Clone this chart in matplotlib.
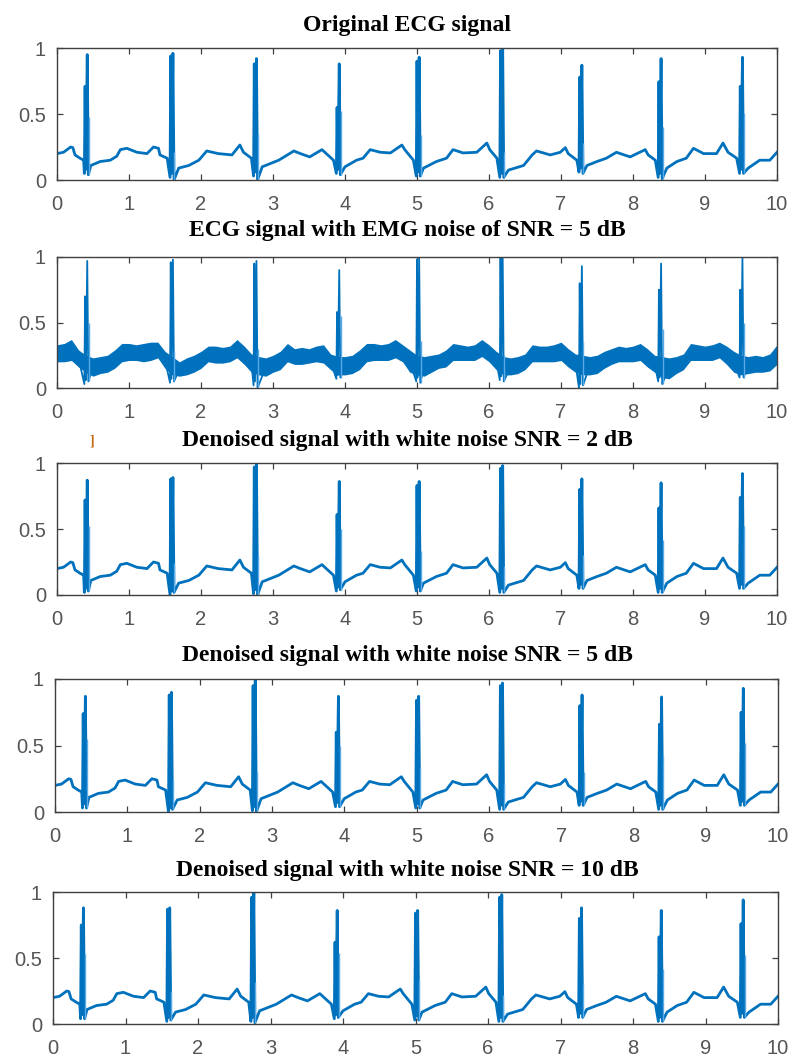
import numpy as np
import matplotlib
matplotlib.use("Agg")
import matplotlib.pyplot as plt

# R-peak times in seconds (same beats in every panel)
beat_t = [0.42, 1.61, 2.77, 3.92, 5.03, 6.19, 7.29, 8.39, 9.52]

# baseline of the ECG between the QRS complexes
base_t = [0.00, 0.09, 0.19, 0.22, 0.25, 0.32, 0.37,
          0.47, 0.60, 0.74, 0.83, 0.88, 0.97, 1.11, 1.25, 1.34, 1.41, 1.43, 1.53,
          1.69, 1.83, 1.97, 2.08, 2.24, 2.43, 2.54, 2.59, 2.70,
          2.85, 3.08, 3.17, 3.29, 3.38, 3.51, 3.68, 3.74, 3.84,
          4.00, 4.16, 4.25, 4.35, 4.49, 4.63, 4.79, 4.83, 4.95,
          5.09, 5.27, 5.41, 5.50, 5.64, 5.83, 5.97, 6.01, 6.11,
          6.27, 6.48, 6.60, 6.66, 6.85, 6.99, 7.06, 7.10, 7.22,
          7.36, 7.50, 7.63, 7.77, 7.96, 8.17, 8.21, 8.31,
          8.47, 8.61, 8.74, 8.84, 8.98, 9.16, 9.25, 9.32, 9.44,
          9.60, 9.76, 9.90, 10.00]
base_v = [0.20, 0.21, 0.25, 0.245, 0.19, 0.165, 0.15,
          0.11, 0.14, 0.15, 0.18, 0.23, 0.24, 0.21, 0.20, 0.25, 0.24, 0.19, 0.165,
          0.09, 0.11, 0.15, 0.22, 0.20, 0.19, 0.265, 0.21, 0.165,
          0.10, 0.15, 0.18, 0.22, 0.20, 0.175, 0.23, 0.20, 0.15,
          0.10, 0.15, 0.165, 0.23, 0.21, 0.205, 0.265, 0.23, 0.15,
          0.09, 0.14, 0.165, 0.23, 0.205, 0.21, 0.28, 0.23, 0.165,
          0.075, 0.11, 0.19, 0.22, 0.19, 0.21, 0.245, 0.20, 0.15,
          0.11, 0.14, 0.165, 0.21, 0.175, 0.23, 0.19, 0.15,
          0.09, 0.14, 0.165, 0.24, 0.20, 0.20, 0.28, 0.21, 0.165,
          0.09, 0.15, 0.15, 0.21]

# EMG noise band (panel 2): upper and lower edge every 0.1 s
emg_t = np.arange(101) / 10
emg_hi = [0.33, 0.34, 0.37, 0.29, 0.25, 0.23, 0.24, 0.25, 0.29, 0.34,
          0.34, 0.33, 0.34, 0.35, 0.35, 0.28, 0.24, 0.20, 0.23, 0.25,
          0.28, 0.32, 0.32, 0.31, 0.32, 0.37, 0.32, 0.26, 0.24, 0.23,
          0.25, 0.28, 0.34, 0.30, 0.31, 0.30, 0.32, 0.33, 0.26, 0.24,
          0.24, 0.25, 0.29, 0.34, 0.34, 0.33, 0.34, 0.37, 0.33, 0.29,
          0.25, 0.24, 0.25, 0.26, 0.29, 0.34, 0.33, 0.32, 0.33, 0.37,
          0.33, 0.28, 0.24, 0.23, 0.24, 0.26, 0.33, 0.32, 0.32, 0.33,
          0.35, 0.30, 0.26, 0.25, 0.24, 0.25, 0.28, 0.30, 0.32, 0.31,
          0.32, 0.34, 0.30, 0.25, 0.24, 0.23, 0.24, 0.26, 0.34, 0.33,
          0.32, 0.33, 0.35, 0.32, 0.28, 0.25, 0.24, 0.25, 0.24, 0.26,
          0.33]
emg_lo = [0.20, 0.20, 0.21, 0.16, 0.12, 0.09, 0.11, 0.12, 0.15, 0.20,
          0.21, 0.21, 0.20, 0.21, 0.23, 0.15, 0.10, 0.09, 0.10, 0.12,
          0.15, 0.20, 0.19, 0.19, 0.20, 0.23, 0.18, 0.12, 0.10, 0.09,
          0.12, 0.14, 0.20, 0.18, 0.18, 0.19, 0.20, 0.19, 0.14, 0.10,
          0.10, 0.11, 0.14, 0.20, 0.21, 0.21, 0.21, 0.23, 0.20, 0.12,
          0.10, 0.09, 0.12, 0.15, 0.16, 0.21, 0.21, 0.21, 0.21, 0.24,
          0.20, 0.14, 0.10, 0.10, 0.11, 0.14, 0.20, 0.20, 0.20, 0.20,
          0.21, 0.16, 0.12, 0.10, 0.10, 0.11, 0.15, 0.18, 0.20, 0.20,
          0.20, 0.21, 0.16, 0.12, 0.08, 0.07, 0.11, 0.14, 0.21, 0.21,
          0.21, 0.21, 0.23, 0.18, 0.12, 0.10, 0.11, 0.12, 0.12, 0.13,
          0.18]

# QRS complexes per panel: R peak, second spike, faint spike, Q and S minimum
peak_orig = [0.95, 0.96, 0.92, 0.88, 0.93, 1.00, 0.87, 0.92, 0.93]
dark_orig = [0.71, 0.94, 0.88, 0.55, 0.90, 0.98, 0.78, 0.745, 0.71]
light_orig = [0.48, 0.21, 0.35, 0.52, 0.34, 0.21, 0.28, 0.40, 0.505]
q_orig = [0.05, 0.02, 0.03, 0.05, 0.03, 0.02, 0.06, 0.02, 0.05]
s_orig = [0.04, 0.00, 0.00, 0.04, 0.03, 0.02, 0.05, 0.01, 0.05]

peak_emg = [0.97, 0.98, 0.97, 0.90, 1.00, 1.00, 0.93, 0.95, 0.99]
dark_emg = [0.70, 0.96, 0.95, 0.58, 0.98, 1.00, 0.80, 0.75, 0.75]
light_emg = [0.50, 0.28, 0.30, 0.55, 0.36, 0.25, 0.35, 0.45, 0.50]
q_emg = [0.03, 0.04, 0.02, 0.07, 0.05, 0.06, 0.00, 0.05, 0.08]
s_emg = [0.05, 0.05, 0.00, 0.08, 0.04, 0.05, 0.02, 0.03, 0.08]

peak_2db = [0.87, 0.89, 1.00, 0.86, 0.86, 0.98, 0.88, 0.85, 0.92]
dark_2db = [0.72, 0.88, 0.97, 0.61, 0.83, 0.96, 0.80, 0.66, 0.74]
light_2db = [0.52, 0.24, 0.30, 0.50, 0.33, 0.22, 0.30, 0.42, 0.52]
q_2db = [0.02, 0.00, 0.01, 0.03, 0.03, 0.02, 0.05, 0.02, 0.05]
s_2db = [0.03, 0.02, 0.00, 0.04, 0.03, 0.02, 0.05, 0.02, 0.05]

peak_5db = [0.87, 0.90, 1.00, 0.87, 0.87, 0.97, 0.88, 0.865, 0.93]
dark_5db = [0.74, 0.88, 0.95, 0.60, 0.84, 0.95, 0.80, 0.66, 0.75]
light_5db = [0.55, 0.24, 0.30, 0.50, 0.33, 0.22, 0.30, 0.42, 0.52]
q_5db = [0.03, 0.00, 0.01, 0.04, 0.03, 0.02, 0.05, 0.02, 0.05]
s_5db = [0.03, 0.02, 0.00, 0.04, 0.03, 0.02, 0.05, 0.02, 0.05]

peak_10db = [0.88, 0.88, 1.00, 0.86, 0.86, 0.98, 0.88, 0.86, 0.94]
dark_10db = [0.75, 0.87, 0.96, 0.62, 0.84, 0.96, 0.80, 0.66, 0.76]
light_10db = [0.53, 0.25, 0.32, 0.54, 0.34, 0.22, 0.30, 0.42, 0.52]
q_10db = [0.04, 0.02, 0.02, 0.04, 0.03, 0.02, 0.05, 0.02, 0.05]
s_10db = [0.04, 0.03, 0.01, 0.05, 0.03, 0.02, 0.05, 0.02, 0.05]

titles = ["Original ECG signal",
          "ECG signal with EMG noise of SNR = 5 dB",
          "Denoised signal with white noise SNR = 2 dB",
          "Denoised signal with white noise SNR = 5 dB",
          "Denoised signal with white noise SNR = 10 dB"]

blue = "#0072BD"
light_blue = "#5aaae6"


def ecg_trace(bt, bv, peak, dark, q, s):
    # baseline points, without the ones that fall inside a QRS complex
    pts = [(t, v) for t, v in zip(bt, bv)
           if min(abs(t - b) for b in beat_t) > 0.045]
    for b, p, d, ql, sl in zip(beat_t, peak, dark, q, s):
        pts += [(b - 0.04, ql), (b - 0.03, d), (b - 0.02, ql + 0.03),
                (b, p), (b + 0.015, sl)]
    pts.sort()
    return [p[0] for p in pts], [p[1] for p in pts]


# panel 2 trace follows the middle of the noise band
emg_mid = [(h + l) / 2 for h, l in zip(emg_hi, emg_lo)]

panels = [
    (base_t, base_v, peak_orig, dark_orig, light_orig, q_orig, s_orig),
    (emg_t, emg_mid, peak_emg, dark_emg, light_emg, q_emg, s_emg),
    (base_t, base_v, peak_2db, dark_2db, light_2db, q_2db, s_2db),
    (base_t, base_v, peak_5db, dark_5db, light_5db, q_5db, s_5db),
    (base_t, base_v, peak_10db, dark_10db, light_10db, q_10db, s_10db),
]

# axes boxes in pixels: left, top, right, bottom
W, H = 795, 1058
boxes = [(57, 48, 777, 180), (57, 257, 777, 388), (57, 463, 777, 595),
         (55, 679, 778, 812), (53, 892, 778, 1024)]
title_y = [30.7, 235.7, 446, 660.7, 876]

plt.rcParams["font.family"] = ["Liberation Sans", "DejaVu Sans"]
fig = plt.figure(figsize=(W / 100, H / 100), dpi=100)

for i, (box, data) in enumerate(zip(boxes, panels)):
    l, t, r, b = box
    ax = fig.add_axes([l / W, 1 - b / H, (r - l) / W, (b - t) / H])
    bt, bv, peak, dark, light, q, s = data

    if i == 1:
        ax.fill_between(emg_t, emg_lo, emg_hi, color=blue, lw=0)
        x, y = ecg_trace(bt, bv, peak, dark, q, s)
        ax.plot(x, y, color=blue, lw=1.3)
    else:
        x, y = ecg_trace(bt, bv, peak, dark, q, s)
        ax.plot(x, y, color=blue, lw=2.0)

    # faint extra spike right after each R peak
    ax.vlines(np.array(beat_t) + 0.02, s, light, color=light_blue, lw=1.0)

    ax.set_xlim(0, 10)
    ax.set_ylim(0, 1)
    ax.set_xticks(range(11))
    ax.set_yticks([0, 0.5, 1])
    ax.set_yticklabels(["0", "0.5", "1"])
    ax.tick_params(direction="in", length=4, width=0.9, color="#404040",
                   labelcolor="#555555", labelsize=14.5, top=True, right=True)
    ax.tick_params(axis="x", pad=11)
    ax.tick_params(axis="y", pad=8)
    for sp in ax.spines.values():
        sp.set_color("#404040")
        sp.set_linewidth(1.0)

    fig.text(407 / W, 1 - title_y[i] / H, titles[i], ha="center",
             va="baseline", fontsize=17, fontweight="bold",
             family=["Liberation Serif", "DejaVu Serif"])

# small stray bracket mark left of the third title
fig.text(92 / W, 1 - 441 / H, "]", ha="center", va="center", fontsize=10,
         fontweight="bold", color="#c06a10", family=["Liberation Serif"])

fig.savefig("out.png", dpi=100)
